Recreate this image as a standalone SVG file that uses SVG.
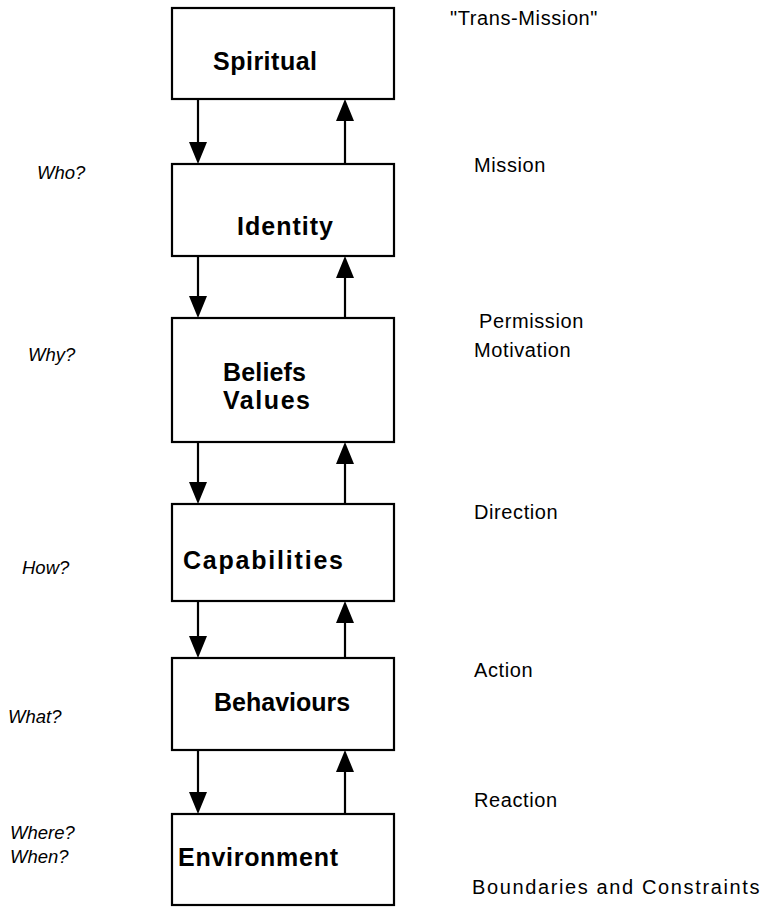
<svg xmlns="http://www.w3.org/2000/svg" width="764" height="907" viewBox="0 0 764 907">
<defs>
<style>
.box{fill:#fff;stroke:#000;stroke-width:2.2}
.lbl{font-family:"Liberation Sans",Arial,sans-serif;font-weight:bold;font-size:25px;fill:#000}
.rt{font-family:"Liberation Sans",Arial,sans-serif;font-size:20px;letter-spacing:0.6px;fill:#000}
.lt{font-family:"Liberation Sans",Arial,sans-serif;font-style:italic;font-size:18.5px;fill:#000}
.ln{stroke:#000;stroke-width:2.2;fill:none}
.hd{fill:#000;stroke:none}
</style>
</defs>
<rect width="764" height="907" fill="#fff"/>
<g id="connectors">
<line class="ln" x1="198" y1="99" x2="198" y2="145"/><polygon class="hd" points="189,142 207,142 198,164"/>
<line class="ln" x1="345" y1="164" x2="345" y2="118"/><polygon class="hd" points="336,121 354,121 345,99"/>
<line class="ln" x1="198" y1="256" x2="198" y2="299"/><polygon class="hd" points="189,296 207,296 198,318"/>
<line class="ln" x1="345" y1="318" x2="345" y2="275"/><polygon class="hd" points="336,278 354,278 345,256"/>
<line class="ln" x1="198" y1="442" x2="198" y2="485"/><polygon class="hd" points="189,482 207,482 198,504"/>
<line class="ln" x1="345" y1="504" x2="345" y2="461"/><polygon class="hd" points="336,464 354,464 345,442"/>
<line class="ln" x1="198" y1="601" x2="198" y2="639"/><polygon class="hd" points="189,636 207,636 198,658"/>
<line class="ln" x1="345" y1="658" x2="345" y2="620"/><polygon class="hd" points="336,623 354,623 345,601"/>
<line class="ln" x1="198" y1="750" x2="198" y2="795"/><polygon class="hd" points="189,792 207,792 198,814"/>
<line class="ln" x1="345" y1="814" x2="345" y2="769"/><polygon class="hd" points="336,772 354,772 345,750"/>
</g>
<g id="spiritual">
<rect class="box" x="172" y="8" width="222" height="91"/>
<text class="lbl" x="213" y="70" textLength="104">Spiritual</text>
</g>
<g id="identity">
<rect class="box" x="172" y="164" width="222" height="92"/>
<text class="lbl" x="237" y="235" textLength="96">Identity</text>
</g>
<g id="beliefs">
<rect class="box" x="172" y="318" width="222" height="124"/>
<text class="lbl" x="223" y="381" textLength="83">Beliefs</text>
<text class="lbl" x="223" y="409" textLength="87">Values</text>
</g>
<g id="capabilities">
<rect class="box" x="172" y="504" width="222" height="97"/>
<text class="lbl" x="183" y="569" textLength="160">Capabilities</text>
</g>
<g id="behaviours">
<rect class="box" x="172" y="658" width="222" height="92"/>
<text class="lbl" x="214" y="711">Behaviours</text>
</g>
<g id="environment">
<rect class="box" x="172" y="814" width="222" height="91"/>
<text class="lbl" x="178" y="866" textLength="160">Environment</text>
</g>
<g id="right-labels">
<text class="rt" x="450" y="25">"Trans-Mission"</text>
<text class="rt" x="474" y="172">Mission</text>
<text class="rt" x="479" y="328">Permission</text>
<text class="rt" x="474" y="357">Motivation</text>
<text class="rt" x="474" y="519">Direction</text>
<text class="rt" x="474" y="677">Action</text>
<text class="rt" x="474" y="807">Reaction</text>
<text class="rt" x="472" y="894" textLength="288">Boundaries and Constraints</text>
</g>
<g id="left-labels">
<text class="lt" x="37" y="179">Who?</text>
<text class="lt" x="28" y="361">Why?</text>
<text class="lt" x="22" y="574">How?</text>
<text class="lt" x="8" y="723">What?</text>
<text class="lt" x="10" y="839">Where?</text>
<text class="lt" x="10" y="863">When?</text>
</g>
</svg>
